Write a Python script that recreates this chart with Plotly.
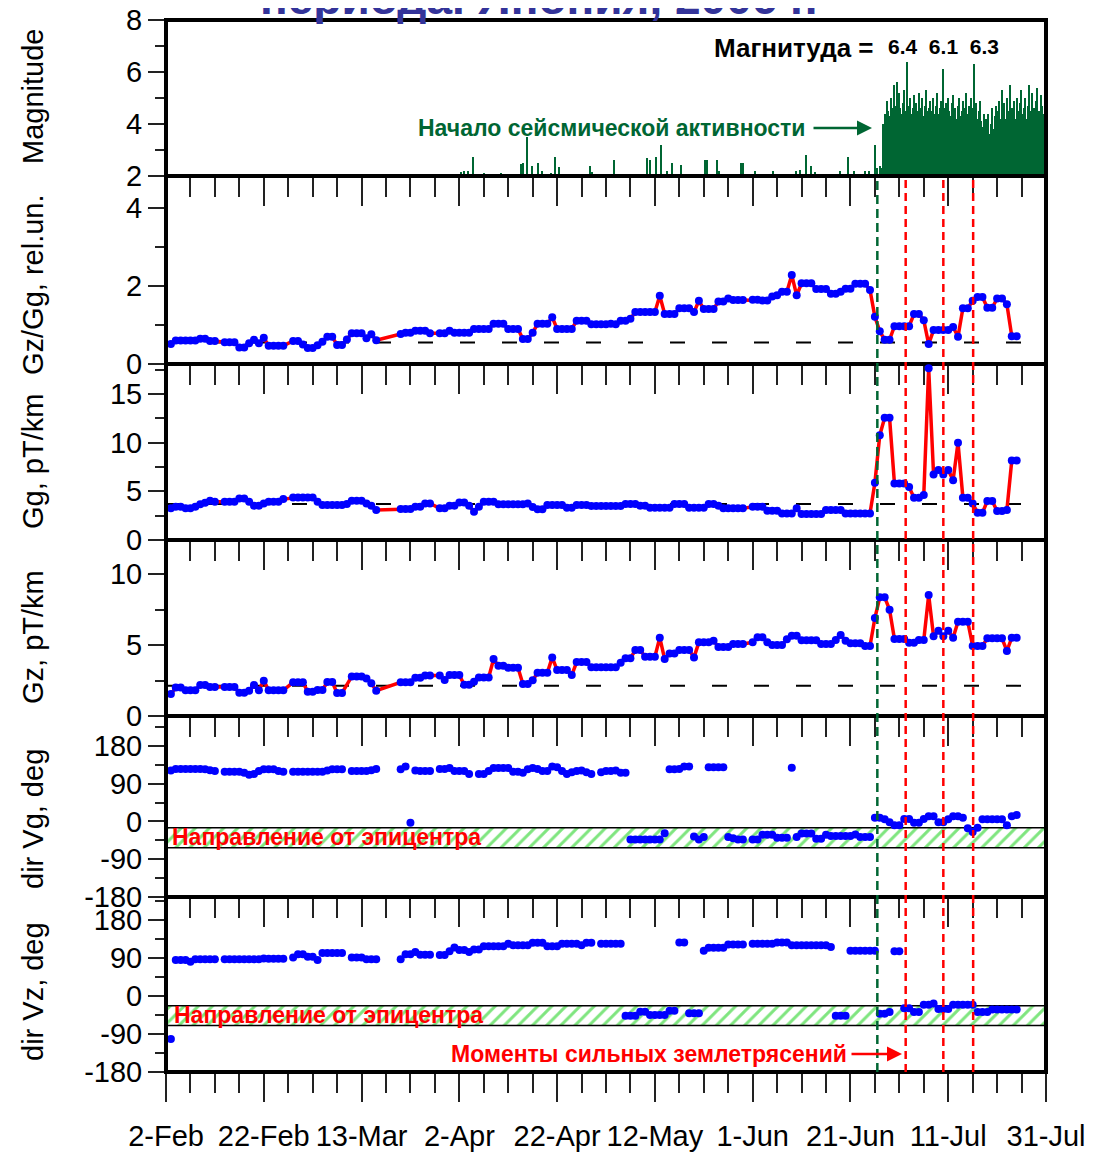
import plotly.graph_objects as go

# ---------------- canvas / layout constants ----------------
# the page body adds an 8px offset; figure is sized so the plot lands on the target pixels
OFF = 8
W, H = 1093 - OFF, 1152 - OFF
ML, MR, MT, MB = 166 - OFF, 47, 20 - OFF, 80
FONT = "Liberation Sans, Arial, sans-serif"


def px(x):
    # page pixel -> paper x
    return (x - 166) / 880.0


def py(y):
    # page pixel -> paper y
    return (1072 - y) / 1052.0


# ---------------- data ----------------
# x axis: days since 2-Feb (daily samples from 3-Feb)
days = list(range(1, 175))
tick_days = [0, 20, 40, 60, 80, 100, 120, 140, 160, 180]
tick_labels = ["2-Feb", "22-Feb", "13-Mar", "2-Apr", "22-Apr", "12-May",
               "1-Jun", "21-Jun", "11-Jul", "31-Jul"]

gzgg = [0.51, 0.60, 0.60, 0.60, 0.60, 0.60, 0.65, 0.65, 0.59, 0.59,
        None, 0.56, 0.56, 0.56, 0.42, 0.42, 0.53, 0.62, 0.53, 0.67,
        0.47, 0.47, 0.47, 0.47, None, 0.59, 0.59, 0.50, 0.41, 0.41,
        0.48, 0.57, 0.70, 0.70, 0.49, 0.49, 0.63, 0.79, 0.79, 0.79,
        0.66, 0.76, 0.61, None, None, None, None, 0.77, 0.80, 0.80,
        0.85, 0.85, 0.85, 0.79, None, 0.79, 0.79, 0.85, 0.80, 0.80,
        0.80, 0.80, 0.90, 0.90, 0.90, 0.90, 1.03, 1.03, 1.03, 0.90,
        0.90, 0.90, 0.64, 0.64, 0.80, 1.03, 1.03, 1.03, 1.20, 0.90,
        0.90, 0.90, 0.90, 1.11, 1.11, 1.11, 1.02, 1.02, 1.02, 1.02,
        1.03, 1.02, 1.11, 1.11, 1.16, 1.33, 1.33, 1.33, 1.33, 1.33,
        1.75, 1.28, 1.28, 1.28, 1.43, 1.43, 1.43, 1.33, 1.62, 1.41,
        1.41, 1.41, 1.60, 1.60, 1.68, 1.64, 1.64, 1.64, None, 1.65,
        1.65, 1.63, 1.63, 1.73, 1.76, 1.85, 1.85, 2.28, 1.76, 2.07,
        2.07, 2.07, 1.92, 1.92, 1.92, 1.80, 1.80, 1.85, 1.93, 1.93,
        2.06, 2.06, 2.06, 1.90, 1.21, 0.84, 0.62, 0.62, 0.97, 0.97,
        0.97, 0.97, 1.28, 1.28, 1.12, 0.51, 0.87, 0.87, 0.87, 0.87,
        0.95, 0.70, 1.43, 1.43, 1.62, 1.72, 1.72, 1.44, 1.44, 1.68,
        1.68, 1.53, 0.71, 0.71]

gg = [3.25, 3.42, 3.42, 3.25, 3.25, 3.42, 3.66, 3.83, 4.03, 3.93,
      None, 3.93, 3.93, 3.93, 4.27, 4.27, 3.93, 3.52, 3.52, 3.76,
      3.93, 3.93, 3.93, 4.20, None, 4.37, 4.37, 4.37, 4.37, 4.37,
      3.93, 3.59, 3.59, 3.59, 3.59, 3.59, 3.70, 4.03, 4.03, 4.03,
      3.76, 3.52, 3.08, None, None, None, None, 3.18, 3.18, 3.18,
      3.42, 3.42, 3.76, 3.76, None, 3.25, 3.25, 3.52, 3.52, 3.86,
      3.86, 3.52, 2.90, 3.42, 3.93, 3.93, 3.93, 3.66, 3.66, 3.66,
      3.66, 3.66, 3.66, 3.76, 3.40, 3.15, 3.15, 3.59, 3.59, 3.59,
      3.59, 3.32, 3.32, 3.59, 3.59, 3.59, 3.50, 3.49, 3.49, 3.49,
      3.49, 3.49, 3.49, 3.70, 3.70, 3.70, 3.52, 3.52, 3.32, 3.32,
      3.32, 3.32, 3.32, 3.70, 3.70, 3.70, 3.32, 3.32, 3.32, 3.32,
      3.70, 3.70, 3.52, 3.25, 3.25, 3.25, 3.25, 3.25, None, 3.42,
      3.42, 3.42, 3.01, 3.01, 3.01, 2.73, 2.73, 2.73, 3.25, 2.66,
      2.66, 2.66, 2.66, 2.66, 3.08, 3.08, 3.08, 3.08, 2.73, 2.73,
      2.73, 2.73, 2.73, 2.73, 5.88, 10.77, 12.55, 12.55, 5.81, 5.81,
      5.81, 5.44, 4.34, 4.34, 4.61, 17.64, 6.74, 7.20, 6.74, 7.20,
      6.15, 10.00, 4.34, 4.34, 3.76, 2.80, 2.80, 4.00, 4.00, 2.97,
      2.97, 3.08, 8.17, 8.17]

gz = [1.55, 2.00, 2.00, 1.81, 1.81, 1.81, 2.18, 2.18, 2.04, 2.04,
      None, 2.04, 2.04, 2.04, 1.64, 1.64, 1.78, 2.18, 1.81, 2.49,
      1.81, 1.81, 1.81, 1.81, None, 2.37, 2.37, 2.37, 1.71, 1.71,
      1.83, 1.83, 2.39, 2.39, 1.62, 1.62, None, 2.79, 2.79, 2.79,
      2.65, 2.30, 1.78, None, None, None, None, 2.37, 2.37, 2.37,
      2.70, 2.70, 2.86, 2.86, None, 2.86, 2.53, 2.88, 2.88, 2.88,
      2.20, 2.20, 2.42, 2.72, 2.72, 2.72, 4.01, 3.54, 3.54, 3.40,
      3.40, 3.40, 2.25, 2.25, 2.51, 3.05, 3.05, 3.05, 4.13, 3.24,
      3.24, 3.24, 2.88, 3.80, 3.80, 3.80, 3.43, 3.43, 3.43, 3.43,
      3.43, 3.43, 3.76, 4.06, 4.06, 4.65, 4.65, 4.18, 4.18, 4.18,
      5.52, 4.01, 4.41, 4.41, 4.65, 4.65, 4.65, 4.13, 5.19, 5.19,
      5.19, 5.30, 4.86, 4.86, 4.86, 5.07, 5.07, 5.07, None, 5.19,
      5.54, 5.54, 5.19, 5.00, 5.00, 5.00, 5.40, 5.66, 5.66, 5.33,
      5.33, 5.33, 5.33, 5.07, 5.07, 5.07, 5.35, 5.70, 5.30, 5.12,
      5.12, 5.12, 4.93, 4.93, 6.90, 8.36, 8.36, 7.49, 5.42, 5.42,
      5.42, 5.16, 5.16, 5.35, 5.35, 8.52, 5.61, 6.00, 5.61, 6.00,
      5.52, 6.64, 6.64, 6.64, 4.93, 4.93, 4.93, 5.47, 5.47, 5.47,
      5.47, 4.58, 5.52, 5.52]

dir_vg = [121, 125, 125, 125, 125, 125, 125, 124, 122, 120,
          None, 118, 118, 118, 118, 116, 111, 113, 120, 124,
          124, 124, 120, 118, None, 118, 118, 118, 118, 118,
          118, 118, 121, 124, 124, 124, None, 120, 120, 120,
          120, 122, 125, None, None, None, None, 124, 131, -3,
          121, 120, 120, 120, None, 125, 125, 127, 120, 120,
          120, 113, None, 113, 113, 120, 127, 127, 127, 127,
          118, 118, 116, 124, 127, 125, 120, 120, 131, 129,
          120, 113, 117, 120, 121, 117, 113, None, 117, 120,
          120, 121, 116, 116, -43, -43, -43, -43, -43, -43,
          -43, -28, 124, 124, 125, 131, 131, -36, -43, -37,
          129, 129, 129, 129, -37, -40, -43, -43, None, -43,
          -43, -32, -32, -32, -39, -39, -39, 128, -37, -29,
          -29, -29, -41, -41, -32, -35, -35, -35, -35, -35,
          -31, -37, -37, -37, 9, 9, 5, -2, -9, -9,
          6, 6, -3, -3, 6, 12, 12, -2, -2, 5,
          12, 12, 9, -16, -25, -15, 5, 5, 5, 5,
          5, -9, 12, 15]

dir_vz = [-102, 85, 85, 85, 81, 87, 87, 87, 87, 87,
          None, 87, 87, 87, 87, 87, 87, 87, 87, 89,
          88, 88, 88, 88, None, 91, 99, 99, 93, 93,
          85, 102, 102, 102, 102, 102, None, 91, 91, 91,
          87, 87, 87, None, None, None, None, 87, 99, 99,
          104, 98, 98, 98, None, 97, 97, 106, 115, 109,
          109, 104, 110, 110, 118, 118, 118, 118, 118, 124,
          120, 120, 120, 120, 126, 126, 126, 118, 118, 118,
          124, 124, 124, 124, 120, 126, 126, None, 124, 124,
          124, 124, 124, -47, -47, -47, -37, -37, -45, -45,
          -45, -45, -35, -35, 127, 127, -41, -41, -41, 107,
          114, 114, 114, 114, 122, 122, 122, 122, None, 124,
          124, 124, 124, 124, 127, 127, 127, 120, 120, 120,
          120, 120, 120, 120, 120, 116, -47, -47, -47, 107,
          107, 107, 107, 107, 107, -42, -42, -38, 106, 106,
          -29, -29, -38, -38, -21, -21, -18, -31, -31, -31,
          -21, -21, -21, -21, -21, -38, -38, -38, -32, -32,
          -32, -32, -32, -32]

# earthquakes: sparse events before the swarm (day, magnitude)
quake_days_sparse = [60.4, 61.0, 61.8, 62.9, 65.0, 68.5, 72.7, 73.1, 73.9, 74.9,
                     76.1, 77.0, 78.7, 79.5, 80.5, 86.7, 87.1, 91.6, 98.4, 99.0,
                     100.2, 101.2, 102.6, 103.6, 105.3, 110.2, 110.7, 112.8, 113.2,
                     117.6, 118.1, 120.6, 124.1, 128.9, 129.8, 131.0, 131.9, 132.7,
                     137.8, 139.5, 140.8, 143.1, 143.8, 145.0, 145.5, 146.0, 146.3]
quake_mag_sparse = [2.15, 2.2, 2.2, 2.74, 2.1, 2.1, 2.45, 2.49, 3.51, 2.4,
                    2.49, 2.2, 2.1, 2.74, 2.35, 2.4, 2.15, 2.6, 2.7, 2.6,
                    2.74, 3.2, 2.2, 2.5, 2.42, 2.62, 2.62, 2.6, 2.2,
                    2.5, 2.5, 2.2, 2.2, 2.2, 2.25, 2.8, 2.4, 2.15,
                    2.2, 2.74, 2.2, 2.2, 2.2, 3.2, 2.3, 2.4, 2.3]
# swarm: magnitudes in quarter-day bins from day 146.75
swarm_start, swarm_step = 146.75, 0.25
swarm_mag = [4.0, 4.4, 4.2, 4.9, 4.5, 4.3, 5.0, 4.6, 4.4, 5.5, 4.7, 5.6, 4.9,
             5.2, 4.6, 4.4, 4.8, 5.3, 4.5, 6.4, 4.7, 4.5, 5.0, 4.4, 4.6,
             5.1, 4.3, 4.8, 4.5, 5.2, 4.4, 4.6, 5.0, 4.3, 4.7, 5.3, 4.5,
             4.6, 4.9, 4.2, 4.5, 5.0, 4.4, 4.7, 5.2, 4.4, 4.6, 4.9, 4.3,
             6.1, 4.6, 4.8, 4.4, 5.0, 4.5, 4.3, 4.8, 5.1, 4.4, 4.6, 4.2,
             4.7, 5.0, 4.3, 4.5, 4.9, 4.2, 4.6, 5.2, 4.4, 4.7, 4.3, 5.0,
             4.6, 6.3, 4.4, 4.8, 4.2, 4.5, 4.9, 4.1, 3.9, 4.4, 3.8, 4.2,
             3.7, 4.4, 3.6, 4.0, 4.6, 3.8, 4.3, 4.7, 4.0, 4.5, 4.9, 4.2,
             5.3, 4.4, 4.8, 4.2, 5.0, 4.5, 4.3, 5.5, 4.6, 4.4, 4.9, 4.2,
             5.0, 4.5, 4.3, 4.8, 5.3, 4.4, 4.6, 5.0, 4.2, 4.7, 5.5, 4.5,
             4.4, 5.2, 4.6, 4.3, 4.9, 5.4, 4.5, 4.2, 5.1, 4.7, 4.4, 4.8]
swarm_days = [swarm_start + swarm_step * i for i in range(len(swarm_mag))]

# reference levels and event markers
base_gzgg, base_gg, base_gz = 0.55, 3.7, 2.13
base_span = [0, 176]
onset_day = 145.5
strong_days = [151.3, 159.0, 165.1]
band_vg = [-63, -15]
band_vz = [-70, -23]

# ---------------- figure ----------------
BLUE, RED, GREEN = "#0000FF", "#FF0000", "#006633"
fig = go.Figure()

fig.add_trace(go.Bar(x=quake_days_sparse + swarm_days,
                     y=quake_mag_sparse + swarm_mag,
                     width=0.26, marker=dict(color=GREEN, line=dict(width=0)),
                     xaxis="x", yaxis="y", showlegend=False))


def line_panel(vals, base, ax):
    fig.add_trace(go.Scatter(x=base_span, y=[base, base], mode="lines",
                             line=dict(color="black", width=2, dash="15px,27px"),
                             xaxis="x" + ax, yaxis="y" + ax, showlegend=False))
    fig.add_trace(go.Scatter(x=days, y=vals, mode="lines+markers", connectgaps=True,
                             line=dict(color=RED, width=3.5),
                             marker=dict(color=BLUE, size=8),
                             xaxis="x" + ax, yaxis="y" + ax, showlegend=False))


line_panel(gzgg, base_gzgg, "2")
line_panel(gg, base_gg, "3")
line_panel(gz, base_gz, "4")


def dir_panel(vals, band, ax):
    fig.add_trace(go.Scatter(x=[0, 180, 180, 0, 0],
                             y=[band[0], band[0], band[1], band[1], band[0]],
                             mode="lines", fill="toself",
                             fillcolor="white",
                             fillpattern=dict(shape="/", fgcolor="#00CC00",
                                              bgcolor="white", size=10, solidity=0.3),
                             line=dict(color="black", width=1.5),
                             xaxis="x" + ax, yaxis="y" + ax, showlegend=False))
    fig.add_trace(go.Scatter(x=days, y=vals, mode="markers",
                             marker=dict(color=BLUE, size=8),
                             xaxis="x" + ax, yaxis="y" + ax, showlegend=False))


dir_panel(dir_vg, band_vg, "5")
dir_panel(dir_vz, band_vz, "6")

# panel geometry (page pixel rows) and y-axis definitions
rows = [(20, 176), (176, 364), (364, 540), (540, 716), (716, 897), (897, 1072)]
dir_ticks = [-180, -90, 0, 90, 180]
dir_labels = ["-180", "-90", "0", "90", "180"]
yspec = [
    dict(range=[2, 8], tickvals=[2, 4, 6, 8], ticktext=["2", "4", "6", "8"], minor=1),
    dict(range=[0, 4.82], tickvals=[0, 2, 4], ticktext=["0", "2", "4"], minor=1),
    dict(range=[0, 18.08], tickvals=[0, 5, 10, 15], ticktext=["0", "5", "10", "15"], minor=2.5),
    dict(range=[0, 12.4], tickvals=[0, 5, 10], ticktext=["0", "5", "10"], minor=2.5),
    dict(range=[-180, 251], tickvals=dir_ticks, ticktext=dir_labels, minor=45),
    dict(range=[-180, 234.5], tickvals=dir_ticks, ticktext=dir_labels, minor=45),
]

layout = dict(width=W, height=H, margin=dict(l=ML, r=MR, t=MT, b=MB, autoexpand=False),
              paper_bgcolor="white", plot_bgcolor="white",
              font=dict(family=FONT, size=29, color="black"),
              bargap=0, showlegend=False)

for i in range(6):
    k = "" if i == 0 else str(i + 1)
    top, bot = rows[i]
    xa = dict(domain=[0, 1], anchor="y" + k, range=[0, 180], side="bottom",
              automargin=False, ticklabeloverflow="allow",
              showline=True, linecolor="black", linewidth=2, mirror=True,
              showgrid=False, zeroline=False,
              tickmode="array", tickvals=tick_days, ticktext=tick_labels,
              ticks="outside", ticklen=28, tickwidth=2, tickcolor="#222222",
              minor=dict(ticks="outside", dtick=5, tick0=0, ticklen=19,
                         tickwidth=2, tickcolor="#222222"),
              showticklabels=(i == 5), tickfont=dict(size=29))
    if i > 0:
        xa["matches"] = "x"
    if i == 5:
        xa["ticklabelstandoff"] = 9
    s = yspec[i]
    ya = dict(domain=[py(bot), py(top)], anchor="x" + k, range=s["range"],
              automargin=False, ticklabeloverflow="allow",
              showline=True, linecolor="black", linewidth=2, mirror=True,
              showgrid=False, zeroline=False,
              tickmode="array", tickvals=s["tickvals"], ticktext=s["ticktext"],
              ticks="outside", ticklen=16, tickwidth=2, tickcolor="#222222",
              minor=dict(ticks="outside", dtick=s["minor"], tick0=0, ticklen=9,
                         tickwidth=2, tickcolor="#222222"),
              tickfont=dict(size=29))
    layout["xaxis" + k] = xa
    layout["yaxis" + k] = ya

shapes = [dict(type="rect", xref="paper", yref="paper", x0=0, x1=1, y0=0, y1=1,
               line=dict(color="black", width=4), layer="above")]
shapes.append(dict(type="line", xref="x", yref="paper", x0=onset_day, x1=onset_day,
                   y0=0, y1=py(176), line=dict(color=GREEN, width=2.5, dash="9px,5px")))
for d in strong_days:
    shapes.append(dict(type="line", xref="x", yref="paper", x0=d, x1=d,
                       y0=0, y1=py(176), line=dict(color=RED, width=2.5, dash="8px,5px")))
layout["shapes"] = shapes

titles = [("Magnitude", 97), ("Gz/Gg, rel.un.", 285), ("Gg, pT/km", 462),
          ("Gz, pT/km", 637), ("dir Vg, deg", 819), ("dir Vz, deg", 992)]
ann = []
for t, yc in titles:
    ann.append(dict(text=t, xref="paper", yref="paper", x=px(33), y=py(yc),
                    textangle=-90, showarrow=False, xanchor="center", yanchor="middle",
                    font=dict(size=29, color="black")))

ann.append(dict(text="периода. Япония, 2006 г.", xref="paper", yref="paper",
                x=px(538), y=py(26), xanchor="center", yanchor="bottom", showarrow=False,
                font=dict(size=46, color="#333399", family=FONT, weight="bold")))
ann.append(dict(text="<b>Магнитуда =</b>",
                xref="paper", yref="paper", x=px(712), y=py(48), xanchor="left",
                yanchor="middle", showarrow=False, font=dict(size=26, color="black")))
ann.append(dict(text="<b>6.4  6.1  6.3</b>",
                xref="paper", yref="paper", x=px(886), y=py(47), xanchor="left",
                yanchor="middle", showarrow=False, font=dict(size=21, color="black")))
ann.append(dict(text="<b>Начало сейсмической активности</b>", xref="paper", yref="paper",
                x=px(416), y=py(128), xanchor="left", yanchor="middle", showarrow=False,
                font=dict(size=23, color=GREEN)))
ann.append(dict(text="", xref="paper", yref="paper", x=px(872), y=py(128),
                ax=-60, ay=0, showarrow=True, arrowhead=2, arrowsize=1.2,
                arrowwidth=2.5, arrowcolor=GREEN))
ann.append(dict(text="<b>Направление от эпицентра</b>", xref="paper", yref="paper",
                x=px(170), y=py(837), xanchor="left", yanchor="middle", showarrow=False,
                font=dict(size=23, color=RED)))
ann.append(dict(text="<b>Направление от эпицентра</b>", xref="paper", yref="paper",
                x=px(172), y=py(1015), xanchor="left", yanchor="middle", showarrow=False,
                font=dict(size=23, color=RED)))
ann.append(dict(text="<b>Моменты сильных землетрясений</b>", xref="paper", yref="paper",
                x=px(449), y=py(1054), xanchor="left", yanchor="middle", showarrow=False,
                font=dict(size=23, color=RED)))
ann.append(dict(text="", xref="paper", yref="paper", x=px(902), y=py(1054),
                ax=-52, ay=0, showarrow=True, arrowhead=2, arrowsize=1.2,
                arrowwidth=2.5, arrowcolor=RED))
layout["annotations"] = ann

fig.update_layout(**layout)
fig.write_html("out.html")
